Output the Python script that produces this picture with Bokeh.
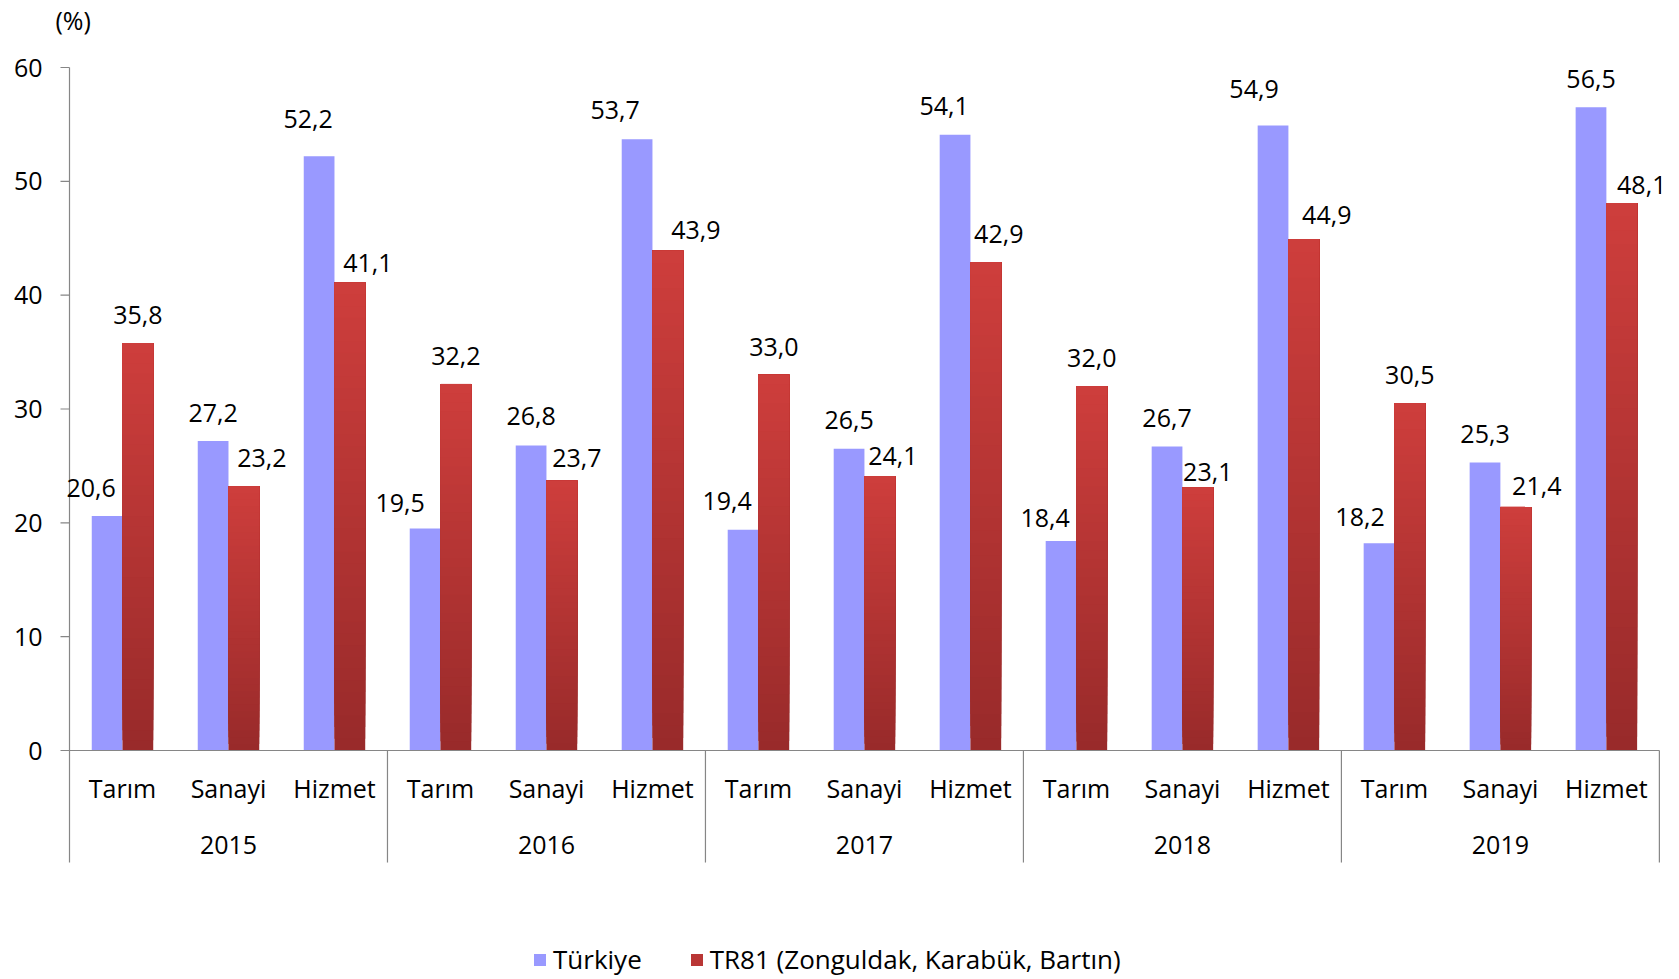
import math
from bokeh.plotting import figure
from bokeh.models import Range1d, Legend, LegendItem
from bokeh.core.properties import value
from bokeh.embed import file_html
from bokeh.resources import INLINE

# ---------------- data ----------------
years = ["2015", "2016", "2017", "2018", "2019"]
sectors = ["Tarım", "Sanayi", "Hizmet"]
turkiye = [20.6, 27.2, 52.2, 19.5, 26.8, 53.7, 19.4, 26.5, 54.1, 18.4, 26.7, 54.9, 18.2, 25.3, 56.5]
tr81 = [35.8, 23.2, 41.1, 32.2, 23.7, 43.9, 33.0, 24.1, 42.9, 32.0, 23.1, 44.9, 30.5, 21.4, 48.1]
y_ticks = [0, 10, 20, 30, 40, 50, 60]

# label nudges (pixels): horizontal shift, distance of text middle above bar top
blue_dx = [-16, 0, -11, -25, 0, -22, -16, 0, -11, -16, 0, -19, -19, 0, 0]
blue_dy = [28, 28, 37, 26, 29, 29, 29, 29, 29, 23, 29, 37, 26, 29, 28]
red_dx = [0, 18, 18, 0, 15, 28, 0, 13, 13, 0, 10, 23, 0, 21, 20]
red_dy = [28, 28, 20, 28, 23, 21, 28, 20, 28, 28, 16, 24, 28, 21, 18]

FONT = "Open Sans"
FS = "25px"
GRAY = "#868686"
BLUE = "#9999FF"
RED_TOP = (206, 62, 60)
RED_BOT = (152, 42, 42)

n_cat = len(years) * len(sectors)
BW = 0.29
SEP_BOTTOM = -9.84
Y_MAX = 60

p = figure(frame_width=1661, frame_height=977,
           x_range=Range1d(-0.651, n_cat + 0.02), y_range=Range1d(-19.94, 65.886),
           output_backend="svg", toolbar_location=None,
           min_border_left=0, min_border_right=10, min_border_top=0, min_border_bottom=0)
p.xaxis.visible = False
p.yaxis.visible = False
p.xgrid.visible = False
p.ygrid.visible = False
p.outline_line_color = None
p.background_fill_color = "white"
p.border_fill_color = "white"

# ---------------- bars ----------------
bx = [i + 0.5 - BW / 2 for i in range(n_cat)]
rx = [i + 0.5 + BW / 2 for i in range(n_cat)]

r_blue = p.vbar(x=bx, top=turkiye, bottom=0, width=BW, fill_color=BLUE, line_color=None)

# red bars with vertical gradient (light top, dark bottom), built from the values;
# each slice reaches the bar top so that no seams show
N = 40
seg_x, seg_b, seg_t, seg_c = [], [], [], []
for xi, v in zip(rx, tr81):
    for k in range(N):
        f = (k + 0.5) / N
        c = tuple(int(round(RED_BOT[j] + (RED_TOP[j] - RED_BOT[j]) * f)) for j in range(3))
        seg_x.append(xi)
        seg_b.append(v * k / N)
        seg_t.append(v)
        seg_c.append("#%02x%02x%02x" % c)
r_red = p.vbar(x=seg_x, bottom=seg_b, top=seg_t, width=BW, fill_color=seg_c, line_color=None)

# ---------------- axes (drawn) ----------------
p.segment(x0=[0], y0=[0], x1=[n_cat], y1=[0], line_color=GRAY, line_width=1.2)
p.segment(x0=[0], y0=[SEP_BOTTOM], x1=[0], y1=[Y_MAX], line_color=GRAY, line_width=1.2)
sx = [3 * g for g in range(1, len(years) + 1)]
p.segment(x0=sx, y0=[0] * len(sx), x1=sx, y1=[SEP_BOTTOM] * len(sx), line_color=GRAY, line_width=1.2)
p.ray(x=[0] * len(y_ticks), y=y_ticks, length=9, length_units="screen", angle=math.pi,
      line_color=GRAY, line_width=1.2)
p.text(x=[0] * len(y_ticks), y=y_ticks, text=[str(t) for t in y_ticks],
       x_offset=-27, text_align="right", text_baseline="middle",
       text_font=value(FONT), text_font_size=FS, text_color="black")
p.text(x=[0], y=[Y_MAX], text=["(%)"], x_offset=-14, y_offset=-48,
       text_align="left", text_baseline="middle",
       text_font=value(FONT), text_font_size=FS, text_color="black")

# ---------------- texts ----------------
fmt = lambda v: ("%.1f" % v).replace(".", ",")
p.text(x=bx, y=turkiye, text=[fmt(v) for v in turkiye],
       x_offset=blue_dx, y_offset=[-d for d in blue_dy],
       text_align="center", text_baseline="middle",
       text_font=value(FONT), text_font_size=FS, text_color="black")
p.text(x=rx, y=tr81, text=[fmt(v) for v in tr81],
       x_offset=red_dx, y_offset=[-d for d in red_dy],
       text_align="center", text_baseline="middle",
       text_font=value(FONT), text_font_size=FS, text_color="black")

cat_labels = [s for _ in years for s in sectors]
p.text(x=[i + 0.5 for i in range(n_cat)], y=[0] * n_cat, text=cat_labels,
       y_offset=37, text_align="center", text_baseline="middle",
       text_font=value(FONT), text_font_size=FS, text_color="black")
p.text(x=[3 * g + 1.5 for g in range(len(years))], y=[0] * len(years), text=years,
       y_offset=94, text_align="center", text_baseline="middle",
       text_font=value(FONT), text_font_size=FS, text_color="black")

# ---------------- legend ----------------
legend = Legend(items=[LegendItem(label="Türkiye", renderers=[r_blue]),
                       LegendItem(label="TR81 (Zonguldak, Karabük, Bartın)", renderers=[r_red], index=24)],
                orientation="horizontal", location=(532, 0),
                glyph_width=15, glyph_height=15, label_standoff=6, spacing=47,
                padding=0, margin=0, border_line_color=None, background_fill_alpha=0,
                label_text_font=FONT, label_text_font_size="26px", label_text_color="black")
p.add_layout(legend)

open("out.html", "w").write(file_html(p, INLINE))
